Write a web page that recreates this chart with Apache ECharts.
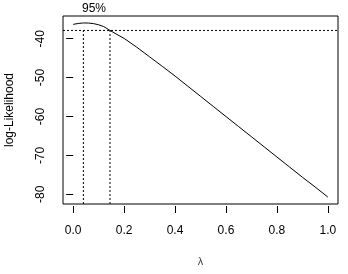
<!DOCTYPE html>
<html>
<head>
<meta charset="utf-8">
<script src="https://cdn.jsdelivr.net/npm/echarts@6/dist/echarts.min.js"></script>
<style>
html,body{margin:0;padding:0;background:#fff;}
#c{width:348px;height:274px;}
</style>
</head>
<body>
<div id="c"></div>
<script>
// Box-Cox profile log-likelihood
var lambdas = [0, 0.02, 0.04, 0.06, 0.08, 0.10, 0.12, 0.14, 0.16, 0.18, 0.20, 0.25, 0.30, 0.35, 0.40, 0.45, 0.50, 0.55, 0.60, 0.65, 0.70, 0.75, 0.80, 0.85, 0.90, 0.95, 1.00];
var logLik = [-36.31, -36.08, -35.95, -35.97, -36.12, -36.42, -36.88, -37.70, -38.45, -39.20, -39.92, -42.20, -44.65, -47.10, -49.60, -52.20, -54.80, -57.40, -60.00, -62.60, -65.20, -67.80, -70.40, -73.00, -75.60, -78.10, -80.70];
var xTicks = [0, 0.2, 0.4, 0.6, 0.8, 1.0];
var yTicks = [-80, -70, -60, -50, -40];
var confLabel = "95%";
var xTitle = "λ";
var yTitle = "log-Likelihood";

var curve = lambdas.map(function (l, i) { return [l, logLik[i]]; });

// R-style 4% axis extension
var xlo = Math.min.apply(null, lambdas), xhi = Math.max.apply(null, lambdas);
var xr = xhi - xlo;
var xMin = xlo - 0.04 * xr, xMax = xhi + 0.04 * xr;
var Lmax = Math.max.apply(null, logLik);
var mx = logLik.indexOf(Lmax);
var lim = Lmax - 3.841459 / 2;
var ylo = Math.min(Math.min.apply(null, logLik), lim), yhi = Math.max(Lmax, lim);
var yr = yhi - ylo;
var yMin = ylo - 0.04 * yr, yMax = yhi + 0.04 * yr;

// upper CI crossing by interpolation
var x2 = null;
for (var i = mx; i < logLik.length - 1; i++) {
  if (logLik[i] >= lim && logLik[i + 1] < lim) {
    x2 = lambdas[i] + (logLik[i] - lim) * (lambdas[i + 1] - lambdas[i]) / (logLik[i] - logLik[i + 1]);
    break;
  }
}
var la = lambdas[mx];

var fontFam = '"Liberation Sans", Arial, sans-serif';
var dotted = { color: '#000', width: 1, type: [2, 2] };

var chart = echarts.init(document.getElementById('c'), null, { renderer: 'canvas' });
var option = {
  animation: false,
  backgroundColor: '#fff',
  grid: { left: 63, right: 10, top: 16, bottom: 70, show: true, borderColor: '#000', borderWidth: 1,
    backgroundColor: 'transparent', containLabel: false, outerBoundsMode: 'none' },
  textStyle: { fontFamily: fontFam },
  xAxis: {
    type: 'value', min: xMin, max: xMax, offset: 2,
    splitLine: { show: false },
    axisLine: { show: false },
    axisTick: { show: true, length: 7, lineStyle: { color: '#000' }, customValues: xTicks },
    axisLabel: { customValues: xTicks, color: '#000', fontSize: 12, fontFamily: fontFam, margin: 19,
      formatter: function (v) { return v.toFixed(1); } },
    name: xTitle, nameLocation: 'middle', nameGap: 50,
    nameTextStyle: { color: '#444', fontSize: 11, fontFamily: fontFam }
  },
  yAxis: {
    type: 'value', min: yMin, max: yMax,
    splitLine: { show: false },
    axisLine: { show: false },
    axisTick: { show: true, length: 7, lineStyle: { color: '#000' }, customValues: yTicks },
    axisLabel: { customValues: yTicks, color: '#000', fontSize: 12, fontFamily: fontFam, rotate: 90, margin: 16,
      formatter: function (v) { return String(Math.round(v)); } },
    name: yTitle, nameLocation: 'middle', nameGap: 47,
    nameTextStyle: { color: '#000', fontSize: 12, fontFamily: fontFam }
  },
  series: [
    { type: 'line', data: curve, symbol: 'none', lineStyle: { color: '#000', width: 1 }, silent: true },
    { type: 'line', data: [[xMin, lim], [xMax, lim]], symbol: 'none', lineStyle: dotted, silent: true },
    { type: 'line', data: [[la, yMin], [la, lim]], symbol: 'none', lineStyle: dotted, silent: true },
    { type: 'line', data: x2 === null ? [] : [[x2, yMin], [x2, lim]], symbol: 'none', lineStyle: dotted, silent: true }
  ],
  graphic: [
    { type: 'text', left: 82, top: 3, style: { text: confLabel, fill: '#000', font: '12px ' + fontFam } }
  ]
};
chart.setOption(option);
</script>
</body>
</html>
